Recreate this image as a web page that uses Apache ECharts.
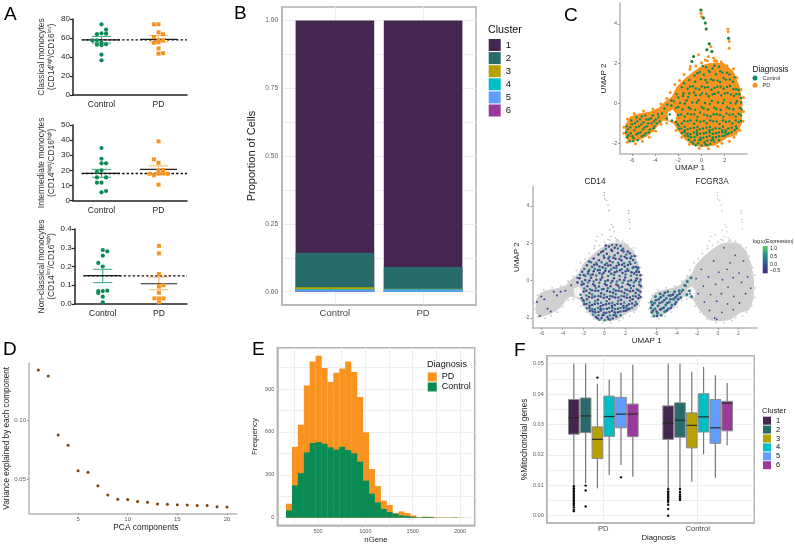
<!DOCTYPE html>
<html><head><meta charset="utf-8"><style>html,body{margin:0;padding:0;background:#fff}#c{width:795px;height:545px}</style>
<script src="https://cdn.jsdelivr.net/npm/echarts@6/dist/echarts.min.js"></script></head><body><div id="c"></div>
<script>
const FONT='"Liberation Sans",Arial,sans-serif';
const GREEN='#0a8b54',ORANGE='#f7931e';
const clusterNames=['1','2','3','4','5','6'];
const clusterColors=['#442650','#276b6a','#b8a000','#00bfc4','#619cff','#9a3a9a'];
const abGroups=['Control','PD'];
// Panel A: [x, value]; x=0.5 is Control, x=1.5 is PD
const a1Control=[[.5,74.4],[.58,68.8],[.42,64],[.5,65],[.58,64.6],[.42,57.5],[.34,57.5],[.5,55],[.42,53],[.5,52.5],[.58,53.5],[.5,42.5],[.5,36.5]];
const a1PD=[[1.42,74.4],[1.5,74.4],[1.5,66],[1.58,64],[1.42,61],[1.5,57.5],[1.58,57.5],[1.42,55],[1.5,55.5],[1.5,49],[1.58,44],[1.5,43.5]];
const a1Stats={Control:[61.7,58,54.7],PD:[62.5,58.6,55.8]};
const a1Ref=58;
const a2Control=[[.5,34.8],[.5,27.7],[.5,24.7],[.58,24.7],[.5,20],[.42,15.4],[.58,15.4],[.42,11.9],[.5,11.9],[.5,5.5],[.58,6.4],[.42,19]];
const a2PD=[[1.5,39.2],[1.42,27.3],[1.5,25],[1.58,20.3],[1.5,20],[1.34,17.8],[1.42,16.8],[1.5,17.8],[1.58,18],[1.66,17.8],[1.5,10.6]];
const a2Stats={Control:[20.7,18,15.5],PD:[23,20.7,17.6]};
const a2Ref=18;
const a3Control=[[.5,.288],[.58,.281],[.5,.258],[.42,.219],[.5,.2],[.42,.069],[.5,.069],[.58,.071],[.42,.059],[.5,.039],[.5,.009]];
const a3PD=[[1.5,.31],[1.5,.27],[1.5,.16],[1.58,.1],[1.5,.093],[1.5,.06],[1.42,.03],[1.5,.03],[1.58,.03],[1.5,.009]];
const a3Stats={Control:[.185,.151,.114],PD:[.144,.108,.076]};
const a3Ref=.15;
// Panel B: share of each cluster per group
const bStack={'1':[.856,.909],'2':[.128,.08],'3':[.007,.002],'4':[.002,.002],'5':[.006,.007],'6':[.001,0]};
// Panel D
const pcaComponents=[1,2,3,4,5,6,7,8,9,10,11,12,13,14,15,16,17,18,19,20];
const pcaVariance=[.1429,.1379,.0879,.0791,.0576,.0562,.0449,.037,.0333,.0331,.0314,.0308,.0294,.0292,.0288,.0285,.0282,.0281,.0271,.0268];
// Panel E
const geneBins=[194,257,319,382,444,507,569,632,694,757,819,882,944,1007,1069,1132,1194,1257,1319,1382,1444,1507,1569,1632,1694,1757,1819,1882,1944,2007];
const geneControl=[51,226,312,457,522,529,517,492,476,496,473,450,392,259,168,107,61,40,28,16,12,7,3,6,5,1,1,1,2,1];
const genePD=[47,270,338,468,571,604,530,457,538,548,620,569,452,338,172,114,58,49,5,28,21,9,2,1,2,3,2,2,1,0];
// Panel F: low, q1, median, q3, high for clusters 1-6
const fPD=[[.0101,.0268,.0322,.0382,.05],[.0106,.0273,.0328,.0387,.05],[.009,.0188,.0251,.0292,.0433],[.0134,.0261,.0326,.0393,.0447],[.0167,.0289,.0334,.0389,.047],[.0128,.026,.0334,.0367,.0496]];
const fControl=[[.009,.0251,.0304,.0361,.05],[.009,.0258,.0314,.0371,.05],[.0112,.0223,.0297,.0338,.0473],[.0202,.0275,.0325,.0401,.0489],[.0125,.0238,.0289,.0382,.0462],[.0232,.0279,.037,.0376,.0436]];
const fPositions=[[.6875,.8125,.9375,1.0625,1.1875,1.3125],[1.6875,1.8125,1.9375,2.0625,2.1875,2.3125]];
const fOutliers=[[.6875,.0015],[.6875,.002],[.6875,.0028],[.6875,.0035],[.6875,.004],[.6875,.0045],[.6875,.005],[.6875,.0055],[.6875,.006],[.6875,.0065],[.6875,.007],[.6875,.0075],[.6875,.008],[.6875,.0085],[.6875,.009],[.6875,.0097],
[.8125,.003],[.8125,.0083],[.8125,.0099],[.9375,.0454],[1.1875,.0126],
[1.6875,0],[1.6875,.0022],[1.6875,.0036],[1.6875,.0045],[1.6875,.005],[1.6875,.0055],[1.6875,.006],[1.6875,.0065],[1.6875,.007],[1.6875,.0075],[1.6875,.008],[1.6875,.0088],
[1.8125,.0052],[1.8125,.0058],[1.8125,.0064],[1.8125,.007],[1.8125,.0078],[1.8125,.0088]];
// UMAP panels: hand-read outline and marks
const umapOutline=[[.75,2.03],[1.9,2.03],[2.76,1.61],[3.28,.85],[3.53,.02],[3.48,-.99],[3.05,-1.57],[2.18,-1.74],[1.18,-2.11],[.17,-2.19],[-.69,-2.13],[-1.41,-1.83],[-1.98,-1.41],[-2.41,-1.02],[-2.84,-.9],[-3.28,-.85],[-3.71,-1.07],[-4.14,-1.41],[-4.71,-1.66],[-5.29,-1.83],[-6.15,-1.96],[-6.58,-1.74],[-6.58,-1.07],[-6.15,-.65],[-5.29,-.49],[-4.43,-.4],[-3.71,-.23],[-3.13,.1],[-2.56,.35],[-2.13,.85],[-1.41,1.27],[-.69,1.61],[.17,1.94]];
const umapHole=[[-2.95,-.45],[-2.5,-.3],[-2.15,-.55],[-2.25,-.9],[-2.85,-.85]];
const umapEdge=[[-2.7,.55],[-2.3,.95],[-1.9,1.15],[-1.5,1.45],[-1.0,1.72],[-.5,1.88],[0,2.05],[.5,2.15],[1.1,2.12],[1.7,2.1],[2.2,1.9],[2.75,1.75],[3.05,1.3],[3.4,.7],[3.6,.3],[3.62,-.4],[3.58,-.9],[3.3,-1.35],[2.8,-1.7],[2.4,-1.9],[1.75,-2.0],[1.4,-2.15],[.6,-2.27],[-.2,-2.25],[-1.05,-2.05],[-1.7,-1.7],[-2.2,-1.35],[-3.0,-.98],[-3.5,-1.05],[-3.95,-1.4],[-4.5,-1.7],[-5.1,-1.9],[-5.7,-2.02],[-6.4,-1.95],[-6.7,-1.5],[-6.7,-1.2],[-6.4,-.78],[-5.8,-.5],[-5,-.38],[-4.2,-.28],[-3.5,-.02],[-3,.25]];
const umapOuter=[[-.05,4.7],[-.05,4.54],[0,4.37],[.17,4.29],[.32,4.04],[.4,3.74],[2.27,3.74],[2.3,3.6],[2.33,3.28],[2.38,3.12],[2.38,2.78],[.66,3],[.8,2.86],[.46,2.7],[.89,2.61],[.6,2.36],[1.03,2.28],[1.18,2.19],[1.32,2.11],[-.69,2.36],[-.83,2.11],[-.98,1.86],[-.26,2.45],[.32,2.19]];
const umapOuterGreen=[[-.05,4.7],[.17,4.29],[.32,4.04],[.4,3.74],[2.33,3.28],[.66,3],[.46,2.7],[.89,2.61],[-.69,2.36],[-.83,2.11]];
const umapA=[[.4,1.82],[.95,1.76],[1.5,1.85],[-.35,1.52],[.2,1.44],[.7,1.58],[1.25,1.47],[1.8,1.55],[2.4,1.46],[-1.05,1.18],[-.55,1.09],[-.05,1.22],[.48,1.05],[1.02,1.17],[1.6,1.08],[2.1,1.2],[2.7,1.1],[-1.7,.82],[-1.2,.74],[-.75,.86],[-.2,.71],[.3,.8],[.85,.69],[1.35,.84],[1.9,.75],[2.45,.88],[3.0,.72],[-2.15,.47],[-1.6,.38],[-1.05,.5],[-.5,.41],[.05,.52],[.62,.36],[1.15,.48],[1.7,.4],[2.25,.53],[2.8,.38],[3.25,.46],[-2.4,.12],[-1.85,.03],[-1.3,.15],[-.8,.05],[-.25,.16],[.3,.02],[.88,.13],[1.42,.05],[1.95,.17],[2.5,.02],[3.05,.11],[3.42,.04],[-2.2,-.22],[-1.65,-.3],[-1.1,-.2],[-.55,-.32],[.02,-.18],[.55,-.3],[1.1,-.21],[1.65,-.33],[2.2,-.19],[2.75,-.29],[3.3,-.22],[-2.0,-.58],[-1.45,-.66],[-.9,-.55],[-.35,-.68],[.22,-.56],[.78,-.65],[1.32,-.54],[1.88,-.67],[2.42,-.57],[2.95,-.66],[3.4,-.6],[-2.2,-.93],[-1.7,-1.0],[-1.2,-.9],[-.65,-1.02],[-.1,-.92],[.45,-.99],[1.0,-.9],[1.55,-1.03],[2.1,-.92],[2.65,-1.0],[3.2,-.94],[-1.95,-1.27],[-1.45,-1.35],[-.95,-1.25],[-.4,-1.37],[.12,-1.26],[.68,-1.34],[1.22,-1.24],[1.78,-1.36],[2.3,-1.26],[2.85,-1.33],[-1.4,-1.62],[-.9,-1.7],[-.38,-1.6],[.15,-1.72],[.7,-1.62],[1.25,-1.7],[1.8,-1.63],[2.2,-1.55],[-.85,-1.93],[-.3,-2.0],[.25,-1.95],[.75,-2.03],[1.1,-1.92]];
const umapB=[[.1,1.7],[.7,1.9],[1.25,1.72],[1.75,1.7],[-.1,1.33],[.45,1.28],[.95,1.35],[1.55,1.3],[2.05,1.4],[2.55,1.3],[-1.3,.98],[-.8,.94],[-.3,.98],[.2,.92],[.75,.98],[1.28,.95],[1.85,.93],[2.35,1.0],[2.9,.95],[-1.95,.62],[-1.45,.58],[-.95,.63],[-.45,.57],[.08,.64],[.6,.59],[1.1,.66],[1.62,.6],[2.15,.62],[2.65,.67],[3.1,.58],[-2.35,.3],[-1.85,.24],[-1.35,.3],[-.8,.27],[-.25,.33],[.32,.25],[.88,.3],[1.42,.24],[1.98,.32],[2.5,.26],[3.05,.3],[-2.15,-.06],[-1.6,-.1],[-1.05,-.05],[-.52,-.12],[.05,-.04],[.6,-.11],[1.15,-.05],[1.7,-.12],[2.25,-.04],[2.78,-.1],[3.3,-.06],[-1.95,-.42],[-1.4,-.47],[-.85,-.4],[-.28,-.48],[.3,-.41],[.85,-.47],[1.4,-.38],[1.95,-.48],[2.5,-.4],[3.05,-.46],[-2.3,-.76],[-1.75,-.8],[-1.2,-.74],[-.62,-.82],[-.05,-.75],[.5,-.82],[1.05,-.73],[1.6,-.82],[2.15,-.74],[2.7,-.82],[3.25,-.77],[-1.98,-1.12],[-1.45,-1.17],[-.9,-1.1],[-.35,-1.18],[.18,-1.1],[.72,-1.18],[1.28,-1.08],[1.85,-1.17],[2.4,-1.08],[2.95,-1.15],[-1.7,-1.48],[-1.2,-1.52],[-.65,-1.46],[-.12,-1.52],[.42,-1.47],[.98,-1.52],[1.5,-1.46],[2.05,-1.45],[2.6,-1.45],[-1.1,-1.82],[-.6,-1.85],[-.05,-1.83],[.5,-1.87],[1.0,-1.8],[1.5,-1.85],[-.5,-2.1],[0,-2.12],[.5,-2.1]];
const umapC=[[.1,1.88],[.62,1.65],[1.12,1.9],[1.62,1.62],[2.2,1.55],[-.6,1.4],[-.15,1.58],[.35,1.18],[.82,1.22],[1.4,1.15],[1.9,1.28],[2.45,1.2],[2.85,1.32],[-1.5,1.02],[-1.0,.85],[-.5,.75],[.02,.85],[.55,.82],[1.12,.78],[1.65,.85],[2.2,.83],[2.75,.72],[3.2,.68],[-2.0,.3],[-1.55,.5],[-1.15,.32],[-.65,.55],[-.1,.42],[.42,.48],[.95,.45],[1.45,.55],[2.0,.5],[2.55,.45],[3.0,.47],[3.4,.28],[-2.6,-.1],[-2.0,-.18],[-1.45,.0],[-.95,-.28],[-.4,.05],[.18,-.25],[.72,-.02],[1.28,-.28],[1.85,.02],[2.4,-.25],[2.95,.0],[3.45,-.3],[-1.75,-.55],[-1.2,-.52],[-.62,-.55],[-.12,-.45],[.5,-.6],[1.05,-.55],[1.6,-.58],[2.15,-.5],[2.7,-.55],[3.2,-.52],[-2.05,-1.05],[-1.5,-.88],[-.95,-.85],[-.4,-.85],[.2,-.88],[.75,-.85],[1.3,-.9],[1.85,-.85],[2.4,-.9],[2.95,-.85],[3.4,-.88],[-1.75,-1.25],[-1.2,-1.3],[-.65,-1.22],[-.15,-1.3],[.42,-1.22],[.95,-1.3],[1.55,-1.25],[2.1,-1.35],[2.6,-1.22],[3.05,-1.25],[-1.45,-1.45],[-.95,-1.55],[-.4,-1.5],[.2,-1.5],[.72,-1.45],[1.25,-1.5],[1.8,-1.45],[2.35,-1.5],[-1.15,-1.65],[-.6,-1.68],[-.1,-1.72],[.45,-1.68],[.95,-1.7],[1.5,-1.65],[2.0,-1.62],[-.7,-2.02],[-.2,-1.85],[.35,-2.05],[.85,-1.85]];
const umapWing=[[-6.45,-1.15],[-6.5,-1.45],[-6.4,-1.7],[-6.2,-1.9],[-6.1,-1.5],[-6.15,-1.2],[-6.05,-.85],[-5.85,-1.75],[-5.8,-1.35],[-5.75,-1.0],[-5.6,-.7],[-5.5,-1.85],[-5.45,-1.5],[-5.4,-1.15],[-5.3,-.8],[-5.15,-1.65],[-5.05,-1.3],[-5,-.95],[-4.85,-.6],[-4.8,-1.5],[-4.7,-1.15],[-4.55,-.8],[-4.45,-1.3],[-4.3,-1.0],[-4.2,-.6],[-4.05,-1.15],[-3.95,-.8],[-3.75,-.55],[-3.6,-.9],[-3.4,-.5],[-3.2,-.25],[-2.95,-.05],[-2.75,-.55],[-2.6,.15],[-3.0,-.75],[-2.55,-.85]];
const umapWing2=[[-6.35,-1.3],[-6.3,-1.6],[-6.0,-1.05],[-5.95,-1.65],[-5.9,-1.9],[-5.65,-1.2],[-5.6,-1.55],[-5.55,-.9],[-5.25,-1.45],[-5.2,-1.05],[-5.15,-.65],[-4.95,-1.6],[-4.9,-1.2],[-4.75,-.8],[-4.6,-1.0],[-4.55,-1.45],[-4.35,-.75],[-4.15,-1.25],[-4.1,-.9],[-3.85,-1.0],[-3.7,-.7]];
const fcgrSparse=[[.6,1.75],[1.7,1.35],[-.4,1.05],[1.2,.95],[2.5,1.05],[-1.6,.6],[.1,.45],[.9,.6],[2.05,.4],[-2.1,.1],[-.9,.2],[.45,.05],[1.5,.15],[2.9,.2],[-1.4,-.3],[-.2,-.2],[1.0,-.35],[2.3,-.1],[3.2,-.4],[-1.9,-.7],[-.7,-.75],[.35,-.7],[1.55,-.85],[2.7,-.7],[-1.3,-1.15],[-.1,-1.1],[.95,-1.25],[2.1,-1.2],[-.8,-1.6],[.4,-1.7],[1.5,-1.55],[-.3,-2.0],[-.1,-2.08],[-3.1,-.3],[-2.7,-.7],[-3.5,-.6],[-3.9,-.75],[-4.3,-.95]];

const grids=[],xAxes=[],yAxes=[],series=[],graphics=[],legends=[];
const TICK='#5a5a5a';
function val(o){return{type:'value',gridIndex:o.g,min:o.min,max:o.max,interval:o.interval,name:o.name,nameLocation:'middle',nameGap:o.gap,
 nameTextStyle:Object.assign({fontFamily:FONT,fontSize:o.nameSize||8,color:'#222'},o.nameStyle||{}),
 axisLine:{show:true,onZero:false,lineStyle:o.line||{color:'#b5b5b5',width:1.5}},
 axisTick:o.gridVals?{show:false,customValues:o.gridVals}:{show:o.tick!==false,length:o.tickLen||2,customValues:o.ticks,lineStyle:o.tickStyle||{color:'#999',width:1}},
 axisLabel:{show:true,customValues:o.ticks,formatter:o.fmt,fontFamily:FONT,fontSize:o.size||6,color:o.labelColor||TICK,margin:o.margin||3,hideOverlap:false,showMinLabel:true,showMaxLabel:true},
 splitLine:o.gridVals?{show:true,lineStyle:{color:'#eeeeee',width:1}}:{show:false},minorTick:{show:false},minorSplitLine:{show:false}};}
function addGrid(l,t,r,b,bordered){const i=grids.length;grids.push({left:l,top:t,width:r-l,height:b-t,show:!!bordered,borderColor:'#b3b3b3',borderWidth:1.5,backgroundColor:'transparent',containLabel:false});return i;}
function panelLetter(t,x,y){graphics.push({type:'text',x,y,z:50,style:{text:t,fontFamily:FONT,fontSize:19,fill:'#000',align:'left',verticalAlign:'top'}});}
function label(t,x,y,size,align,color,rot){graphics.push({type:'text',x,y,z:50,rotation:rot||0,style:{text:t,fontFamily:FONT,fontSize:size,fill:color||'#222',align:align||'left',verticalAlign:'middle',rich:{s:{fontSize:4,verticalAlign:'bottom',fontFamily:FONT,fill:'#222'}}}});}

// ---- Panel A
const AL={color:'#222',width:1.5},AT={color:'#222',width:1.2};
function panelA(l,r,t,b,ymax,yint,name,ctrl,pd,stats,ref,digits){
 const g=addGrid(l,t,r,b);
 xAxes.push(val({g,min:0,max:2,ticks:[.5,1.5],fmt:v=>abGroups[v<1?0:1],size:8.5,labelColor:'#222',margin:5,tick:false,line:AL}));
 yAxes.push(val({g,min:0,max:ymax,interval:yint,ticks:undefined,fmt:v=>digits?v.toFixed(digits):v,size:8,labelColor:'#222',margin:3,tickLen:3,tickStyle:AT,line:AL,name,gap:16,nameSize:8.5,
  nameStyle:{lineHeight:10,color:'#333',rich:{s:{fontSize:4.5,verticalAlign:'top',lineHeight:10,fontFamily:FONT,color:'#333'}}}}));
 const errs=(key,x,col)=>({type:'custom',name:key+' mean and SEM',xAxisIndex:g,yAxisIndex:g,silent:true,z:4,data:[[x,...stats[key]]],
  renderItem:(p,api)=>{const X=api.value(0),u=api.value(1),m=api.value(2),d=api.value(3),c=api.coord.bind(api);
   const seg=(a,b,s,w)=>({type:'line',shape:{x1:c(a)[0],y1:c(a)[1],x2:c(b)[0],y2:c(b)[1]},style:{stroke:s,lineWidth:w}});
   return{type:'group',children:[seg([X,u],[X,d],col,1),seg([X-.17,u],[X+.17,u],col,1),seg([X-.17,d],[X+.17,d],col,1),seg([X-.325,m],[X+.325,m],'#222',1.2)]};}});
 series.push({type:'line',name:'reference',xAxisIndex:g,yAxisIndex:g,data:[[.15,ref],[2,ref]],symbol:'none',silent:true,z:5,lineStyle:{color:'#111',width:1.4,type:[2.5,2]}});
 series.push(errs('Control',.5,'#35a67a'),errs('PD',1.5,'#f8b266'));
 series.push({type:'scatter',name:'Control',xAxisIndex:g,yAxisIndex:g,data:ctrl,symbol:'circle',symbolSize:4.2,itemStyle:{color:GREEN,opacity:1},silent:true,z:6});
 series.push({type:'scatter',name:'PD',xAxisIndex:g,yAxisIndex:g,data:pd,symbol:'rect',symbolSize:4,itemStyle:{color:ORANGE,opacity:1},silent:true,z:6});
}
panelA(73,187,19,95,80,20,'Classical monocytes\n(CD14{s|high}/CD16{s|low})',a1Control,a1PD,a1Stats,a1Ref,0);
panelA(73,187,125,200.7,50,10,'Intermediate monocytes\n(CD14{s|high}/CD16{s|high})',a2Control,a2PD,a2Stats,a2Ref,0);
panelA(74.7,187,229,304,.4,.1,'Non-classical monocytes\n(CD14{s|low}/CD16{s|high})',a3Control,a3PD,a3Stats,a3Ref,1);
panelLetter('A',4,5);

// ---- Panel B (bars overlaid from the running total, tallest first)
{const g=addGrid(282,7,476,305,true);
 xAxes.push(val({g,min:.4,max:2.6,ticks:[1,2],gridVals:[1,2],fmt:v=>abGroups[v-1],size:9.5,margin:3,labelColor:'#444'}));
 yAxes.push(val({g,min:-.049,max:1.05,ticks:[0,.25,.5,.75,1],gridVals:[0,.125,.25,.375,.5,.625,.75,.875,1],fmt:v=>v.toFixed(2),size:6.5,margin:4,name:'Proportion of Cells',gap:25,nameSize:11}));
 clusterNames.forEach((k,c)=>series.push({type:'bar',name:k,xAxisIndex:g,yAxisIndex:g,barGap:'-100%',barWidth:78.6,silent:true,z:2+c,
  data:[0,1].map(i=>[i+1,clusterNames.slice(c).reduce((s,q)=>s+bStack[q][i],0)]),itemStyle:{color:clusterColors[c]}}));
 label('Cluster',488,30,10.7,'left','#111');
 legends.push({data:clusterNames,left:488.7,top:39,orient:'vertical',itemWidth:12,itemHeight:12,itemGap:1.1,padding:0,selectedMode:false,icon:'rect',textStyle:{fontFamily:FONT,fontSize:9.5,color:'#111'}});
 panelLetter('B',234,4);
}

// ---- UMAP helpers
function polygon(g,pts,fill,z,name){series.push({type:'custom',name,xAxisIndex:g,yAxisIndex:g,silent:true,z,data:pts,encode:{x:0,y:1},
 renderItem:(p,api)=>p.dataIndex===0?{type:'polygon',shape:{points:pts.map(q=>api.coord(q))},style:{fill}}:null});}
function dots(g,pts,color,size,z,name){series.push({type:'scatter',name,xAxisIndex:g,yAxisIndex:g,data:pts,symbol:'circle',symbolSize:size,itemStyle:{color,opacity:1},silent:true,z});}

// ---- Panel C
{const g=addGrid(620,3,747,154);
 xAxes.push(val({g,min:-7.03,max:3.92,ticks:[-6,-4,-2,0,2],fmt:v=>v,size:5.5,name:'UMAP 1',gap:7,nameSize:8,nameStyle:{padding:[0,0,0,13]}}));
 yAxes.push(val({g,min:-2.54,max:5.05,ticks:[-2,0,2,4],fmt:v=>v,size:5.5,name:'UMAP 2',gap:9,nameSize:8}));
 polygon(g,umapOutline,ORANGE,2,'PD region');
 polygon(g,umapHole,'#fff',3,'hole');
 dots(g,umapEdge,ORANGE,3,3,'PD edge');
 dots(g,umapOuter,ORANGE,3,3,'PD outer');
 dots(g,umapOuterGreen,GREEN,3,4,'Control outer');
 dots(g,umapA.concat(umapC,umapB.filter(p=>p[1]<-1.1),umapWing,umapWing2),GREEN,2.4,4,'Control cells');
 label('Diagnosis',752.5,70,8.2,'left','#111');
 legends.push({data:['Control','PD'],left:752.5,top:75,orient:'vertical',itemWidth:5,itemHeight:5,itemGap:1.3,padding:0,selectedMode:false,icon:'circle',textStyle:{fontFamily:FONT,fontSize:5.5,color:'#333'}});
 panelLetter('C',564,6);
}
// ---- CD14 / FCGR3A
const VB='#3b4a8f',VT='#2a7f8e',BASE='#d0d0d0';
{const g=addGrid(532.3,186.7,644,327.7);
 xAxes.push(val({g,min:-6.9,max:3.74,ticks:[-6,-4,-2,0,2],fmt:v=>v,size:5,margin:3}));
 yAxes.push(val({g,min:-2.52,max:5.02,ticks:[-2,0,2,4],fmt:v=>v,size:5,name:'UMAP 2',gap:6,nameSize:8}));
 polygon(g,umapOutline,BASE,2,'cells');polygon(g,umapHole,'#f7f7f7',3,'hole');
 dots(g,umapEdge,BASE,2,3,'edge');
 dots(g,umapOuter,'#a9b2cc',1.6,3,'outer');
 dots(g,umapA.concat(umapC),VB,2.5,4,'CD14 low');
 dots(g,umapB,VT,2.5,4,'CD14 high');
 dots(g,umapWing.filter((p,i)=>i%3===0),VB,2,4,'CD14 wing');
 label('CD14',595,181.7,8.2,'center','#222');
}
{const g=addGrid(645.7,186.7,757.3,327.7);
 xAxes.push(val({g,min:-7,max:3.84,ticks:[-6,-4,-2,0,2],fmt:v=>v,size:5,margin:3}));
 yAxes.push(val({g,min:-2.52,max:5.02,ticks:[],fmt:v=>'',size:5,tick:false,line:{color:'transparent',width:0}}));
 polygon(g,umapOutline,BASE,2,'cells');polygon(g,umapHole,'#f7f7f7',3,'hole');
 dots(g,umapEdge,BASE,2,3,'edge');
 dots(g,umapOuter,'#c8c8c8',1.6,3,'outer');
 dots(g,fcgrSparse,VB,1.8,4,'FCGR3A low');
 dots(g,umapWing,VT,3,4,'FCGR3A wing');
 dots(g,umapWing2,VB,2.6,4,'FCGR3A wing 2');
 label('FCGR3A',712,181.7,8.2,'center','#222');
}
label('UMAP 1',646.7,341,8,'center','#222');
label('log{s|10}(Expression)',753,241.7,5.2,'left','#222');
graphics.push({type:'rect',x:762.7,y:246,z:50,shape:{x:0,y:0,width:5,height:27.3},style:{fill:{type:'linear',x:0,y:0,x2:0,y2:1,colorStops:[{offset:0,color:'#5ec962'},{offset:.35,color:'#21908c'},{offset:.7,color:'#31508e'},{offset:1,color:'#482878'}]}}});
[['1.0',249],['0.5',256.7],['0.0',264.3],['−0.5',271]].forEach(([t,y])=>label(t,770,y,5.2,'left','#222'));

// ---- Panel D
{const g=addGrid(29,363.3,236.7,513.3);
 xAxes.push(val({g,min:.06,max:20.98,ticks:[5,10,15,20],fmt:v=>v,size:6,name:'PCA components',gap:10.5,nameSize:8.4,nameStyle:{padding:[0,0,0,26]}}));
 yAxes.push(val({g,min:.0215,max:.1486,ticks:[.05,.1],fmt:v=>v.toFixed(2),size:6,name:'Variance explained by each component',gap:17,nameSize:8.2}));
 series.push({type:'scatter',name:'Variance',xAxisIndex:g,yAxisIndex:g,silent:true,symbol:'circle',symbolSize:3,itemStyle:{color:'#7a430e',opacity:1},data:pcaComponents.map((c,i)=>[c,pcaVariance[i]])});
 panelLetter('D',3,340);
}
// ---- Panel E (Control drawn over the Control+PD total)
{const g=addGrid(277.3,347.7,474.7,525.3,true);
 xAxes.push(val({g,min:70,max:2155,ticks:[500,1000,1500,2000],gridVals:[250,500,750,1000,1250,1500,1750,2000],fmt:v=>v,size:5.5,name:'nGene',gap:10.7,nameSize:7.8}));
 yAxes.push(val({g,min:-53,max:1189,ticks:[0,300,600,900],gridVals:[0,150,300,450,600,750,900,1050],fmt:v=>v,size:5.5,name:'Frequency',gap:18,nameSize:7.8}));
 series.push({type:'bar',name:'PD',xAxisIndex:g,yAxisIndex:g,barGap:'-100%',barWidth:6.1,silent:true,z:2,itemStyle:{color:ORANGE},data:geneBins.map((x,i)=>[x,geneControl[i]+genePD[i]])});
 series.push({type:'bar',name:'Control',xAxisIndex:g,yAxisIndex:g,barGap:'-100%',barWidth:6.1,silent:true,z:3,itemStyle:{color:GREEN},data:geneBins.map((x,i)=>[x,geneControl[i]])});
 label('Diagnosis',427,364,9.1,'left','#111');
 legends.push({data:['PD','Control'],left:427.7,top:372.5,orient:'vertical',itemWidth:9,itemHeight:9,itemGap:1,padding:0,selectedMode:false,icon:'rect',textStyle:{fontFamily:FONT,fontSize:9,color:'#111'}});
 panelLetter('E',252,340);
}
// ---- Panel F
{const g=addGrid(546.7,355.7,754.3,523,true);
 xAxes.push(val({g,min:.4,max:2.6,ticks:[1,2],gridVals:[1,2],fmt:v=>['PD','Control'][v-1],size:7.6,margin:2,labelColor:'#444',name:'Diagnosis',gap:9,nameSize:7.8,nameStyle:{padding:[0,0,0,16]}}));
 yAxes.push(val({g,min:-.0024,max:.0526,ticks:[0,.01,.02,.03,.04,.05],gridVals:[0,.005,.01,.015,.02,.025,.03,.035,.04,.045,.05],fmt:v=>v.toFixed(2),size:5.5,name:'%Mitochondrial genes',gap:17.5,nameSize:8.3}));
 clusterNames.forEach((k,i)=>series.push({type:'custom',name:k+' boxes',xAxisIndex:g,yAxisIndex:g,silent:true,z:4,itemStyle:{color:clusterColors[i]},encode:{x:0,y:[1,2,3,4,5]},
  data:[[fPositions[0][i],...fPD[i]],[fPositions[1][i],...fControl[i]]],
  renderItem:(p,api)=>{const x=api.value(0),lo=api.value(1),q1=api.value(2),m=api.value(3),q3=api.value(4),hi=api.value(5),c=api.coord.bind(api),hw=.0565;
   const seg=(a,b,s,w)=>({type:'line',shape:{x1:c(a)[0],y1:c(a)[1],x2:c(b)[0],y2:c(b)[1]},style:{stroke:s,lineWidth:w}});
   const tl=c([x-hw,q3]),br=c([x+hw,q1]);
   return{type:'group',children:[seg([x,lo],[x,q1],'#777',1.2),seg([x,q3],[x,hi],'#777',1.2),
    {type:'rect',shape:{x:tl[0],y:tl[1],width:br[0]-tl[0],height:br[1]-tl[1]},style:{fill:clusterColors[i],stroke:'#8a8a8a',lineWidth:1}},
    seg([x-hw,m],[x+hw,m],'#2a2a2a',1.2)]};}}));
 series.push({type:'scatter',name:'outliers',xAxisIndex:g,yAxisIndex:g,silent:true,z:5,symbol:'circle',symbolSize:2.4,itemStyle:{color:'#111',opacity:1},data:fOutliers});
 label('Cluster',762,411,7.6,'left','#111');
 legends.push({data:clusterNames,left:763,top:416.7,orient:'vertical',itemWidth:8,itemHeight:8,itemGap:.9,padding:0,selectedMode:false,icon:'rect',textStyle:{fontFamily:FONT,fontSize:7.5,color:'#111'}});
 panelLetter('F',514,341);
}
const chart=echarts.init(document.getElementById('c'),null,{renderer:'canvas'});
chart.setOption({animation:false,backgroundColor:'#fff',textStyle:{fontFamily:FONT},tooltip:{show:false},grid:grids,xAxis:xAxes,yAxis:yAxes,series,legend:legends,graphic:{elements:graphics}});
</script></body></html>
